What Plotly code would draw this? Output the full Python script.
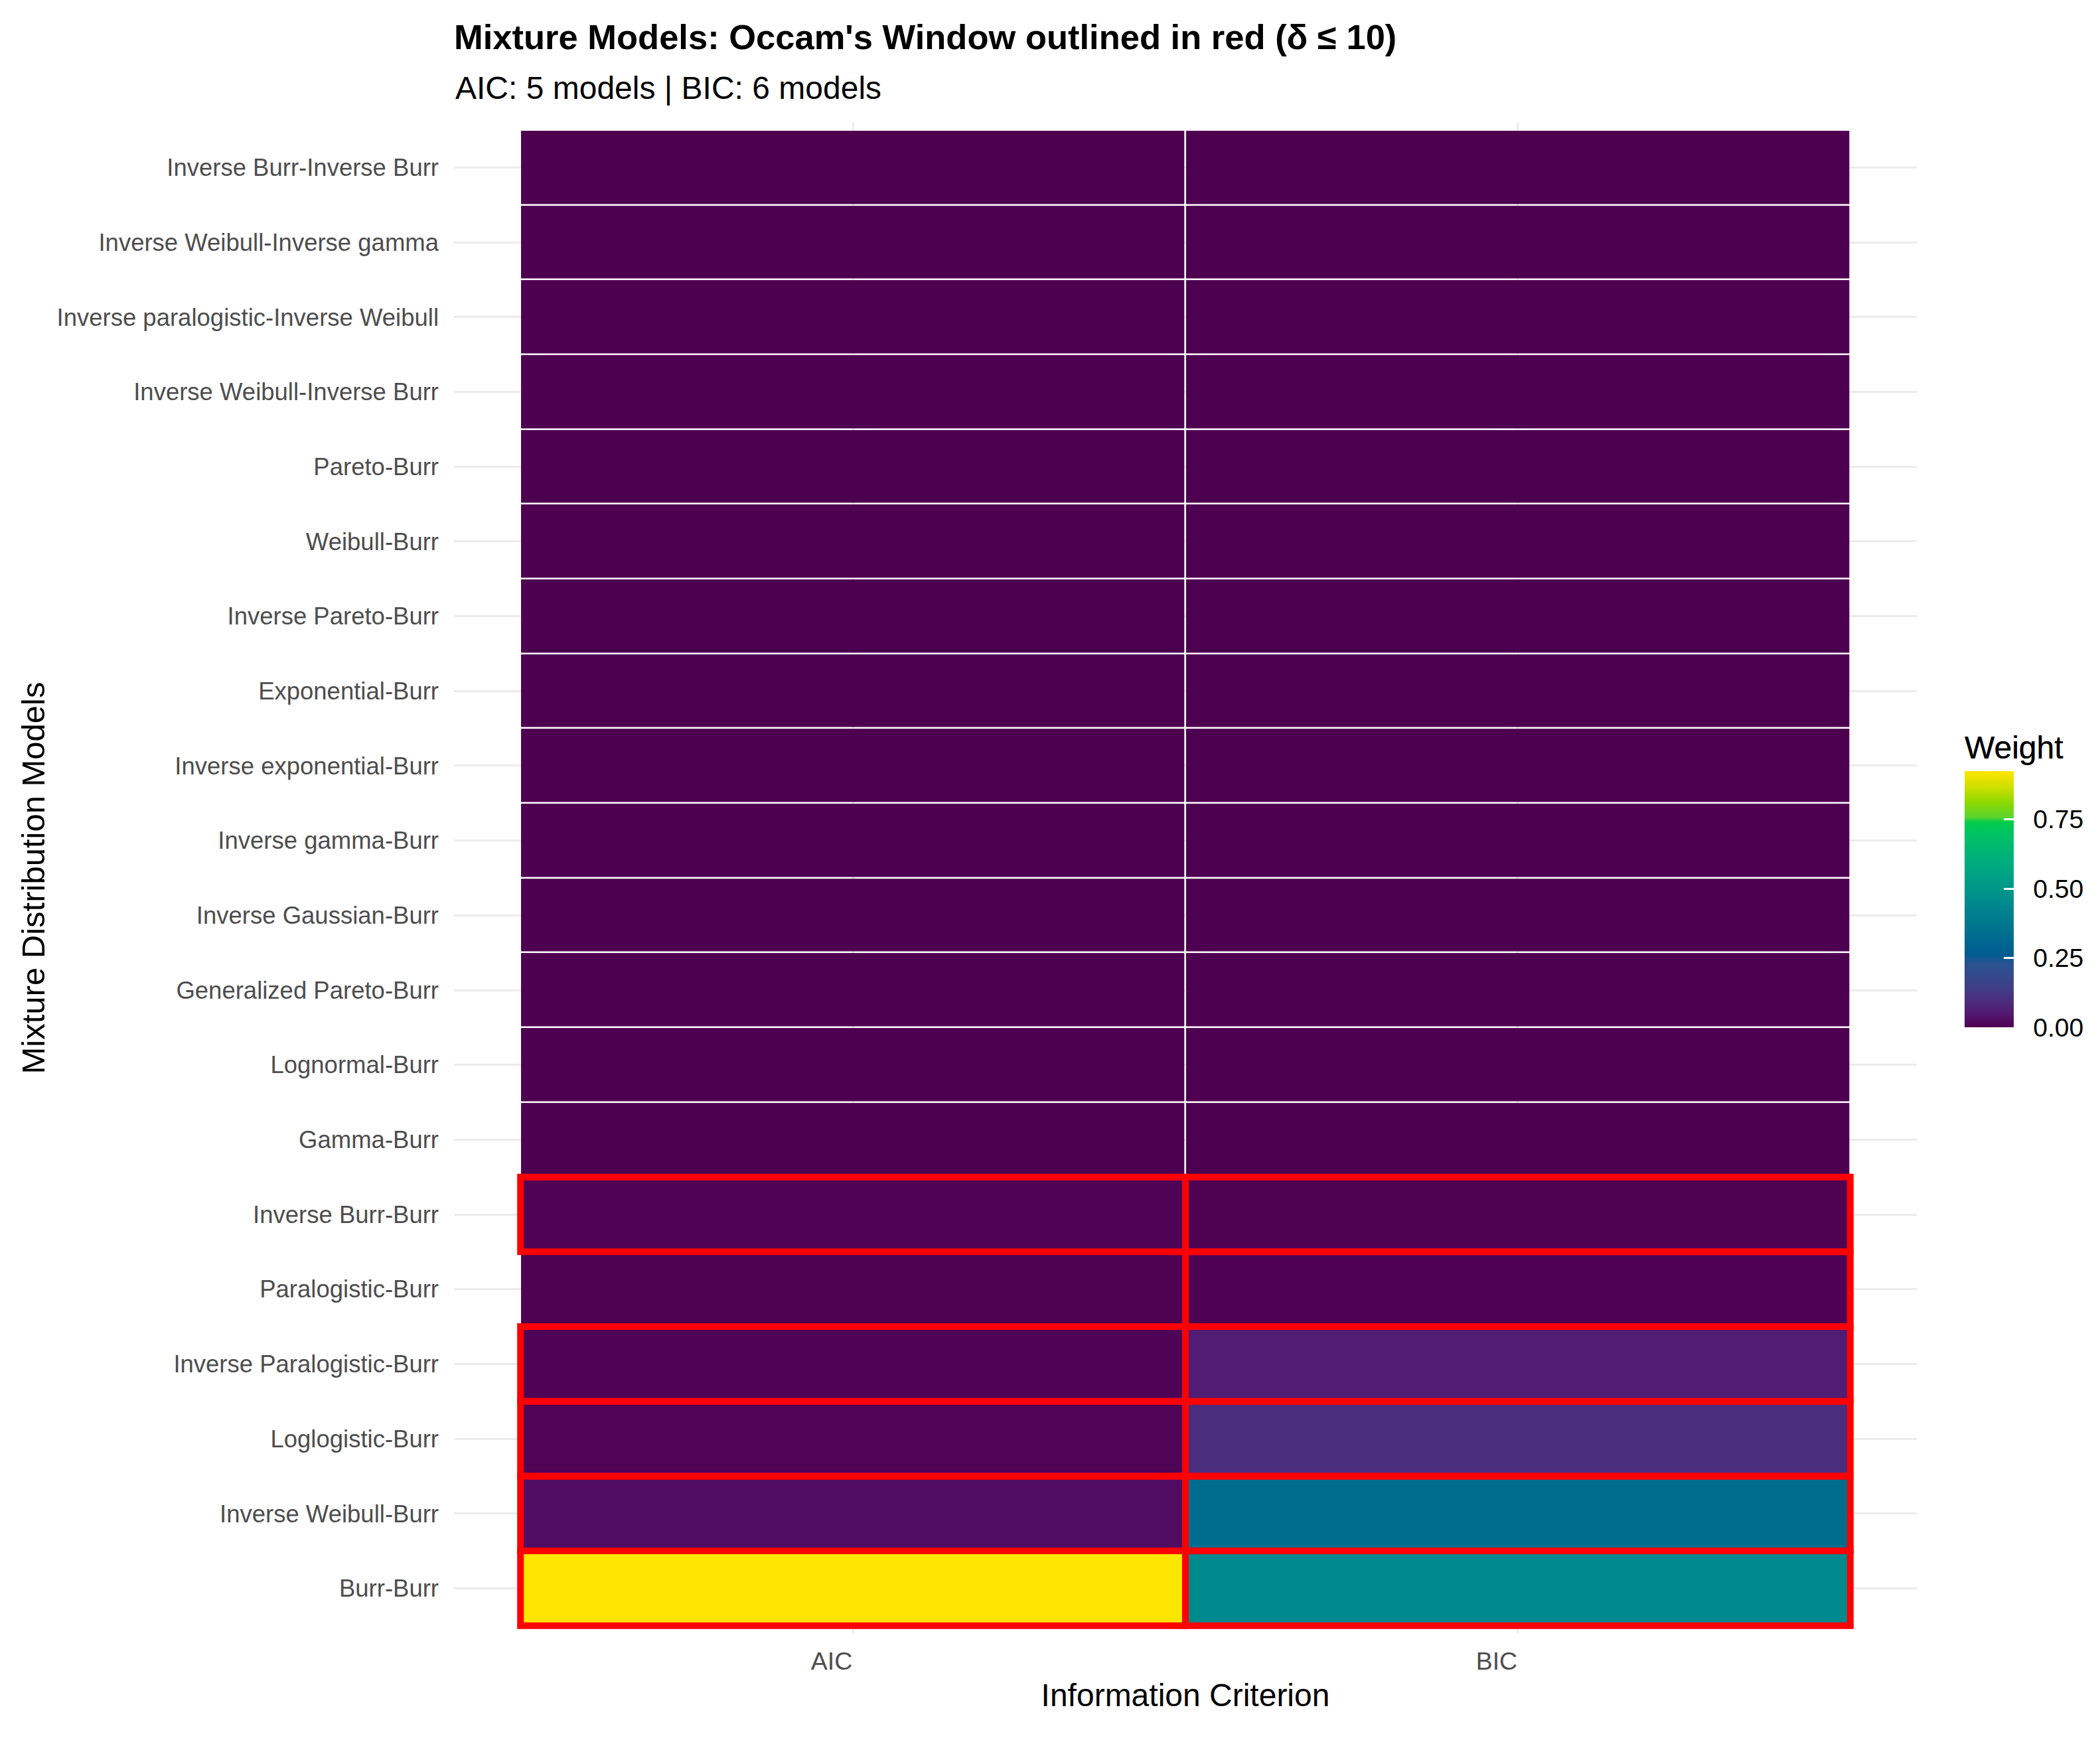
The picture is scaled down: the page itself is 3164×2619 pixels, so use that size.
import plotly.graph_objects as go

# models listed bottom -> top, as they appear on the y axis
models = [
    "Burr-Burr",
    "Inverse Weibull-Burr",
    "Loglogistic-Burr",
    "Inverse Paralogistic-Burr",
    "Paralogistic-Burr",
    "Inverse Burr-Burr",
    "Gamma-Burr",
    "Lognormal-Burr",
    "Generalized Pareto-Burr",
    "Inverse Gaussian-Burr",
    "Inverse gamma-Burr",
    "Inverse exponential-Burr",
    "Exponential-Burr",
    "Inverse Pareto-Burr",
    "Weibull-Burr",
    "Pareto-Burr",
    "Inverse Weibull-Inverse Burr",
    "Inverse paralogistic-Inverse Weibull",
    "Inverse Weibull-Inverse gamma",
    "Inverse Burr-Inverse Burr",
]
criteria = ["AIC", "BIC"]

aic_weight = [0.924, 0.023, 0.008, 0.006, 0.002, 0.006,
              0, 0, 0, 0, 0, 0, 0, 0, 0, 0, 0, 0, 0, 0]
bic_weight = [0.45, 0.33, 0.095, 0.055, 0.004, 0.003,
              0, 0, 0, 0, 0, 0, 0, 0, 0, 0, 0, 0, 0, 0]

# Occam's window membership (delta <= 10)
aic_window = [1, 1, 1, 1, 0, 1, 0, 0, 0, 0, 0, 0, 0, 0, 0, 0, 0, 0, 0, 0]
bic_window = [1, 1, 1, 1, 1, 1, 0, 0, 0, 0, 0, 0, 0, 0, 0, 0, 0, 0, 0, 0]

colorbar_ticks = [0, 0.25, 0.5, 0.75]

FONT = "Liberation Sans, Arial, sans-serif"
# the page body has an 8px margin, so the figure is a bit smaller than the window
W, H = 3148, 2603
L, R, T, B = 676, 268, 177, 150

# viridis as it looks in the reference
scale = [
    [0.00, "#4e0050"], [0.05, "#521870"], [0.11, "#4a3080"],
    [0.17, "#3c4288"], [0.245, "#2a5290"], [0.285, "#005c90"],
    [0.38, "#00728f"], [0.47, "#00868e"], [0.54, "#00978a"],
    [0.65, "#00ae7e"], [0.75, "#00c265"], [0.80, "#00cc4c"],
    [0.82, "#5cd230"], [0.88, "#90da00"], [0.94, "#d0e000"],
    [1.00, "#ffe600"],
]

z = [[a, b] for a, b in zip(aic_weight, bic_weight)]
zmax = max(max(aic_weight), max(bic_weight))

cb_common = dict(
    title=dict(text="Weight", side="top", font=dict(size=48, color="black", family=FONT)),
    tickvals=colorbar_ticks,
    ticktext=["%.2f" % v for v in colorbar_ticks],
    tickfont=dict(size=39, color="black", family=FONT),
    outlinewidth=0,
    thickness=74,
    lenmode="pixels", len=444,
    x=(2952 - L) / (W - L - R), xanchor="left", xpad=0,
    y=(H - B - 1318) / (H - T - B), yanchor="middle", ypad=0,
)

fig = go.Figure()
# labelled colorbar (outside ticks kept white so they only push the labels out)
fig.add_trace(go.Heatmap(
    x=criteria, y=models, z=z,
    zmin=0, zmax=zmax,
    colorscale=scale,
    xgap=3, ygap=3,
    hoverinfo="skip",
    colorbar=dict(cb_common, ticks="outside", tickcolor="white", ticklen=22),
))
# same trace again, only to get the white tick marks inside the bar
fig.add_trace(go.Heatmap(
    x=criteria, y=models, z=z,
    zmin=0, zmax=zmax,
    colorscale=scale,
    xgap=3, ygap=3,
    colorbar=dict(cb_common, ticks="inside", tickcolor="white", ticklen=15,
                  tickwidth=3, showticklabels=False),
))

# red outlines for models inside Occam's window
for col, flags in enumerate([aic_window, bic_window]):
    for i, f in enumerate(flags):
        if f:
            fig.add_shape(type="rect", xref="x", yref="y",
                          x0=col - 0.5, x1=col + 0.5, y0=i - 0.5, y1=i + 0.5,
                          line=dict(color="#ff0000", width=10), layer="above")

fig.update_layout(
    width=W, height=H,
    margin=dict(l=L, r=R, t=T, b=B),
    paper_bgcolor="white", plot_bgcolor="white",
    font=dict(family=FONT),
    title=dict(
        text="<b>Mixture Models: Occam's Window outlined in red (δ ≤ 10)</b>",
        font=dict(size=52.5, color="black", family=FONT),
        x=0, xref="paper", xanchor="left",
        y=1 - 48 / H, yref="container", yanchor="middle",
    ),
    annotations=[dict(
        text="AIC: 5 models | BIC: 6 models",
        xref="paper", yref="paper",
        x=0, xanchor="left",
        y=1 + (T - 124) / (H - T - B), yanchor="middle",
        showarrow=False,
        font=dict(size=48, color="black", family=FONT),
    )],
)

fig.update_xaxes(
    range=[-0.6, 1.6], showgrid=True, gridcolor="#ebebeb", gridwidth=3,
    zeroline=False, showline=False, ticks="", ticklabelstandoff=16,
    ticklabelshift=-32,
    tickfont=dict(size=37.5, color="#4d4d4d", family=FONT),
    title=dict(text="Information Criterion", font=dict(size=48, color="black", family=FONT), standoff=14),
    automargin=False,
)
fig.update_yaxes(
    range=[-0.6, 19.6], showgrid=True, gridcolor="#ebebeb", gridwidth=3,
    zeroline=False, showline=False, ticks="", ticklabelstandoff=22,
    tickfont=dict(size=36.5, color="#4d4d4d", family=FONT),
    title=dict(text="Mixture Distribution Models", font=dict(size=49, color="black", family=FONT), standoff=2),
    automargin=False,
)

fig.write_html("out.html")
